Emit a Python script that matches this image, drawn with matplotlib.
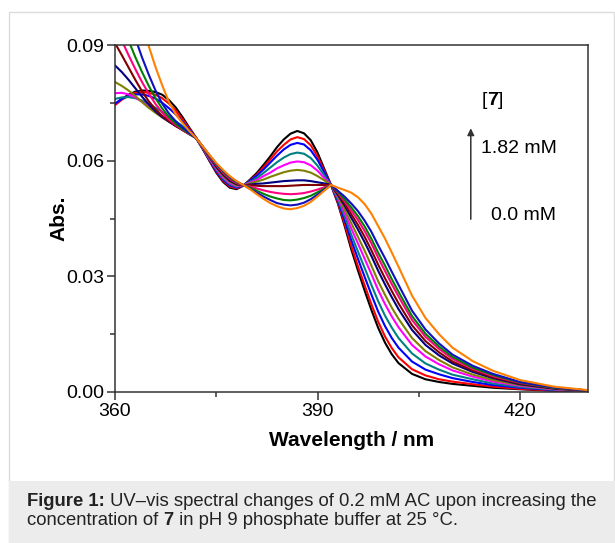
import matplotlib
matplotlib.use("Agg")
import matplotlib.pyplot as plt
from matplotlib.patches import Rectangle
from matplotlib.ticker import MultipleLocator, FormatStrFormatter

plt.rcParams['font.family'] = ['Liberation Sans', 'DejaVu Sans']

# wavelength grid (nm)
wl = list(range(360, 403)) + [404, 406, 408, 410, 413, 416, 420, 425, 430]

# absorbance spectra, [7] = 0.0 mM (black) ... 1.82 mM (orange)
a_black = [0.0746, 0.0760, 0.0771, 0.0779, 0.0782, 0.0781, 0.0778, 0.0771, 0.0757, 0.0738, 0.0713, 0.0686, 0.0660,
           0.0630, 0.0599, 0.0569, 0.0545, 0.0530, 0.0526, 0.0535,
           0.0551, 0.0568, 0.0589, 0.0611, 0.0635, 0.0655, 0.0670, 0.0677, 0.0671, 0.0653, 0.0621, 0.0579,
           0.0537, 0.0490, 0.0432, 0.0370, 0.0315, 0.0262, 0.0212, 0.0166, 0.0128, 0.0098, 0.0075,
           0.0047, 0.0033, 0.0026, 0.0021, 0.0016, 0.0011, 0.0007, 0.0003, 0.0001]
a_red = [0.0744, 0.0758, 0.0769, 0.0776, 0.0778, 0.0776, 0.0771, 0.0762, 0.0748, 0.0730, 0.0707, 0.0683, 0.0659,
         0.0631, 0.0601, 0.0572, 0.0548, 0.0533, 0.0528, 0.0535,
         0.0549, 0.0564, 0.0583, 0.0603, 0.0624, 0.0641, 0.0655, 0.0661, 0.0656, 0.0640, 0.0611, 0.0574,
         0.0537, 0.0492, 0.0438, 0.0379, 0.0326, 0.0276, 0.0227, 0.0182, 0.0144, 0.0114, 0.0090,
         0.0059, 0.0043, 0.0033, 0.0027, 0.0020, 0.0014, 0.0008, 0.0004, 0.0001]
a_blue = [0.0748, 0.0760, 0.0768, 0.0772, 0.0772, 0.0768, 0.0761, 0.0750, 0.0736, 0.0720, 0.0701, 0.0680, 0.0659,
          0.0631, 0.0602, 0.0574, 0.0551, 0.0536, 0.0530, 0.0535,
          0.0548, 0.0561, 0.0577, 0.0595, 0.0613, 0.0629, 0.0641, 0.0646, 0.0642, 0.0627, 0.0602, 0.0570,
          0.0537, 0.0496, 0.0447, 0.0394, 0.0345, 0.0298, 0.0252, 0.0208, 0.0171, 0.0140, 0.0115,
          0.0079, 0.0058, 0.0046, 0.0036, 0.0026, 0.0018, 0.0011, 0.0005, 0.0002]
a_teal = [0.0760, 0.0764, 0.0765, 0.0762, 0.0756, 0.0747, 0.0737, 0.0726, 0.0714, 0.0702, 0.0690, 0.0675, 0.0659,
          0.0632, 0.0604, 0.0577, 0.0554, 0.0539, 0.0532, 0.0536,
          0.0545, 0.0555, 0.0568, 0.0582, 0.0596, 0.0608, 0.0617, 0.0621, 0.0618, 0.0607, 0.0587, 0.0562,
          0.0537, 0.0500, 0.0456, 0.0408, 0.0364, 0.0321, 0.0277, 0.0235, 0.0198, 0.0167, 0.0140,
          0.0100, 0.0074, 0.0058, 0.0045, 0.0033, 0.0022, 0.0013, 0.0006, 0.0002]
a_magenta = [0.0775, 0.0776, 0.0772, 0.0764, 0.0753, 0.0740, 0.0728, 0.0716, 0.0704, 0.0693, 0.0682, 0.0671, 0.0659,
             0.0633, 0.0605, 0.0579, 0.0557, 0.0542, 0.0534, 0.0536,
             0.0543, 0.0550, 0.0560, 0.0569, 0.0580, 0.0588, 0.0595, 0.0598, 0.0596, 0.0588, 0.0574, 0.0555,
             0.0537, 0.0505, 0.0466, 0.0424, 0.0385, 0.0345, 0.0305, 0.0264, 0.0228, 0.0196, 0.0168,
             0.0122, 0.0092, 0.0072, 0.0056, 0.0040, 0.0027, 0.0016, 0.0007, 0.0002]
a_olive = [0.0804, 0.0794, 0.0782, 0.0768, 0.0752, 0.0737, 0.0724, 0.0712, 0.0701, 0.0691, 0.0681, 0.0670, 0.0659,
           0.0633, 0.0607, 0.0582, 0.0560, 0.0545, 0.0536, 0.0536,
           0.0541, 0.0546, 0.0551, 0.0558, 0.0564, 0.0570, 0.0574, 0.0576, 0.0574, 0.0569, 0.0560, 0.0549,
           0.0537, 0.0508, 0.0474, 0.0438, 0.0402, 0.0366, 0.0327, 0.0287, 0.0252, 0.0219, 0.0190,
           0.0140, 0.0106, 0.0083, 0.0064, 0.0045, 0.0031, 0.0018, 0.0008, 0.0003]
a_navy = [0.0847, 0.0830, 0.0810, 0.0788, 0.0766, 0.0746, 0.0728, 0.0713, 0.0701, 0.0690, 0.0680, 0.0669, 0.0659,
          0.0634, 0.0609, 0.0584, 0.0564, 0.0548, 0.0539, 0.0536,
          0.0538, 0.0540, 0.0541, 0.0543, 0.0545, 0.0547, 0.0548, 0.0549, 0.0549, 0.0547, 0.0544, 0.0541,
          0.0537, 0.0512, 0.0484, 0.0452, 0.0421, 0.0388, 0.0352, 0.0314, 0.0279, 0.0246, 0.0215,
          0.0161, 0.0122, 0.0095, 0.0074, 0.0052, 0.0036, 0.0020, 0.0009, 0.0003]
a_maroon = [0.0905, 0.0874, 0.0842, 0.0810, 0.0780, 0.0754, 0.0733, 0.0716, 0.0702, 0.0690, 0.0679, 0.0669, 0.0659,
            0.0635, 0.0610, 0.0587, 0.0567, 0.0551, 0.0541, 0.0536,
            0.0536, 0.0535, 0.0534, 0.0534, 0.0534, 0.0534, 0.0535, 0.0536, 0.0537, 0.0537, 0.0537, 0.0537,
            0.0537, 0.0515, 0.0489, 0.0461, 0.0433, 0.0402, 0.0367, 0.0330, 0.0295, 0.0262, 0.0230,
            0.0173, 0.0132, 0.0103, 0.0079, 0.0056, 0.0038, 0.0022, 0.0010, 0.0003]
a_pink = [0.0950, 0.0912, 0.0874, 0.0838, 0.0804, 0.0774, 0.0747, 0.0725, 0.0707, 0.0693, 0.0680, 0.0669, 0.0659,
          0.0635, 0.0611, 0.0589, 0.0569, 0.0553, 0.0542, 0.0537,
          0.0533, 0.0528, 0.0523, 0.0519, 0.0516, 0.0514, 0.0513, 0.0514, 0.0516, 0.0520, 0.0525, 0.0531,
          0.0537, 0.0518, 0.0495, 0.0471, 0.0446, 0.0417, 0.0385, 0.0348, 0.0314, 0.0280, 0.0248,
          0.0187, 0.0143, 0.0112, 0.0086, 0.0060, 0.0041, 0.0024, 0.0011, 0.0004]
a_green = [0.0995, 0.0955, 0.0912, 0.0869, 0.0830, 0.0794, 0.0762, 0.0735, 0.0713, 0.0696, 0.0682, 0.0670, 0.0659,
           0.0636, 0.0613, 0.0591, 0.0572, 0.0556, 0.0544, 0.0537,
           0.0530, 0.0522, 0.0514, 0.0507, 0.0502, 0.0498, 0.0497, 0.0499, 0.0503, 0.0509, 0.0518, 0.0527,
           0.0537, 0.0520, 0.0500, 0.0479, 0.0456, 0.0429, 0.0397, 0.0361, 0.0328, 0.0293, 0.0260,
           0.0197, 0.0151, 0.0118, 0.0091, 0.0063, 0.0044, 0.0025, 0.0011, 0.0004]
a_dblue = [0.1050, 0.1010, 0.0966, 0.0918, 0.0868, 0.0823, 0.0782, 0.0748, 0.0722, 0.0702, 0.0686, 0.0672, 0.0659,
           0.0637, 0.0614, 0.0592, 0.0574, 0.0558, 0.0546, 0.0537,
           0.0527, 0.0517, 0.0507, 0.0498, 0.0490, 0.0486, 0.0484, 0.0486, 0.0491, 0.0500, 0.0512, 0.0524,
           0.0537, 0.0522, 0.0507, 0.0489, 0.0469, 0.0444, 0.0415, 0.0380, 0.0347, 0.0312, 0.0278,
           0.0211, 0.0162, 0.0126, 0.0097, 0.0068, 0.0047, 0.0026, 0.0012, 0.0004]
a_orange = [0.1180, 0.1130, 0.1080, 0.1020, 0.0958, 0.0897, 0.0843, 0.0795, 0.0752, 0.0720, 0.0698, 0.0677, 0.0659,
            0.0637, 0.0615, 0.0594, 0.0576, 0.0560, 0.0547, 0.0537,
            0.0526, 0.0513, 0.0501, 0.0490, 0.0482, 0.0476, 0.0474, 0.0477, 0.0483, 0.0493, 0.0507, 0.0522,
            0.0537, 0.0530, 0.0524, 0.0517, 0.0505, 0.0487, 0.0462, 0.0430, 0.0398, 0.0362, 0.0325,
            0.0250, 0.0192, 0.0150, 0.0115, 0.0080, 0.0055, 0.0031, 0.0014, 0.0005]

spectra = [a_black, a_red, a_blue, a_teal, a_magenta, a_olive, a_navy,
           a_maroon, a_pink, a_green, a_dblue, a_orange]
colors = ['#000000', '#FF0000', '#0000FF', '#008080', '#FF00FF', '#808000', '#000080',
          '#800000', '#FF0080', '#008000', '#1010C0', '#FF8000']

W, H = 615, 543
fig = plt.figure(figsize=(W / 100, H / 100), dpi=100)

def px(x, y):
    return x / W, 1 - y / H

# outer frame and caption box (behind everything)
x0, y0 = px(9, 542)
x1, y1 = px(614, 12)
fig.patches.append(Rectangle((x0, y0), x1 - x0, y1 - y0, transform=fig.transFigure,
                             facecolor='none', edgecolor='#dcdcdc', lw=1.0, zorder=-10))
cx, cy = px(9, 543)
fig.patches.append(Rectangle((cx, cy), 1 - cx, px(0, 481)[1] - cy, transform=fig.transFigure,
                             facecolor='#ececec', edgecolor='none', zorder=-10))

ax = fig.add_axes([115 / W, 1 - 392 / H, 472.5 / W, 347 / H])
ax.set_facecolor('none')
for s, c in zip(spectra, colors):
    ax.plot(wl, s, color=c, lw=1.5)

ax.set_xlim(360, 430)
ax.set_ylim(0, 0.09)
ax.xaxis.set_major_locator(MultipleLocator(30))
ax.xaxis.set_minor_locator(MultipleLocator(15))
ax.yaxis.set_major_locator(MultipleLocator(0.03))
ax.yaxis.set_minor_locator(MultipleLocator(0.015))
ax.yaxis.set_major_formatter(FormatStrFormatter('%.2f'))
ax.tick_params(which='both', direction='out', labelsize=14, color='#333333',
               top=False, right=False, width=1.1)
ax.tick_params(which='major', length=6, pad=2)
ax.tick_params(which='minor', length=3.5)
for sp in ax.spines.values():
    sp.set_color('#333333')
    sp.set_linewidth(1.1)

ax.set_xlabel('Wavelength / nm', fontsize=15, fontweight='bold', labelpad=8)
ax.set_ylabel('Abs.', fontsize=15, fontweight='bold', labelpad=-2)

# concentration annotation
ax.annotate('', xy=(0.753, 0.768), xytext=(0.753, 0.49), xycoords='axes fraction',
            arrowprops=dict(arrowstyle='-|>', color='#333333', lw=1.1, mutation_scale=10))
t = ax.text(0.776, 0.841, '[', transform=ax.transAxes, fontsize=14, va='center')
t = ax.annotate('7', xy=(1, 0), xycoords=t, va='bottom', fontsize=14, fontweight='bold')
ax.annotate(']', xy=(1, 0), xycoords=t, va='bottom', fontsize=14)
ax.text(0.774, 0.702, '1.82 mM', transform=ax.transAxes, fontsize=14, va='center')
ax.text(0.796, 0.510, '0.0 mM', transform=ax.transAxes, fontsize=14, va='center')

# caption
cap = dict(fontsize=13.3, color='#222222')
c1 = fig.text(27 / W, 1 - 506 / H, 'Figure 1:', fontweight='bold', va='baseline', **cap)
ax.annotate(' UV\u2013vis spectral changes of 0.2 mM AC upon increasing the', xy=(1, 0),
            xycoords=c1, va='bottom', annotation_clip=False, **cap)
c2 = fig.text(27 / W, 1 - 525 / H, 'concentration of ', va='baseline', **cap)
c3 = ax.annotate('7', xy=(1, 0), xycoords=c2, va='bottom', fontweight='bold',
                 annotation_clip=False, **cap)
ax.annotate(' in pH 9 phosphate buffer at 25 \u00b0C.', xy=(1, 0), xycoords=c3, va='bottom',
            annotation_clip=False, **cap)

fig.savefig('out.png', dpi=100)
